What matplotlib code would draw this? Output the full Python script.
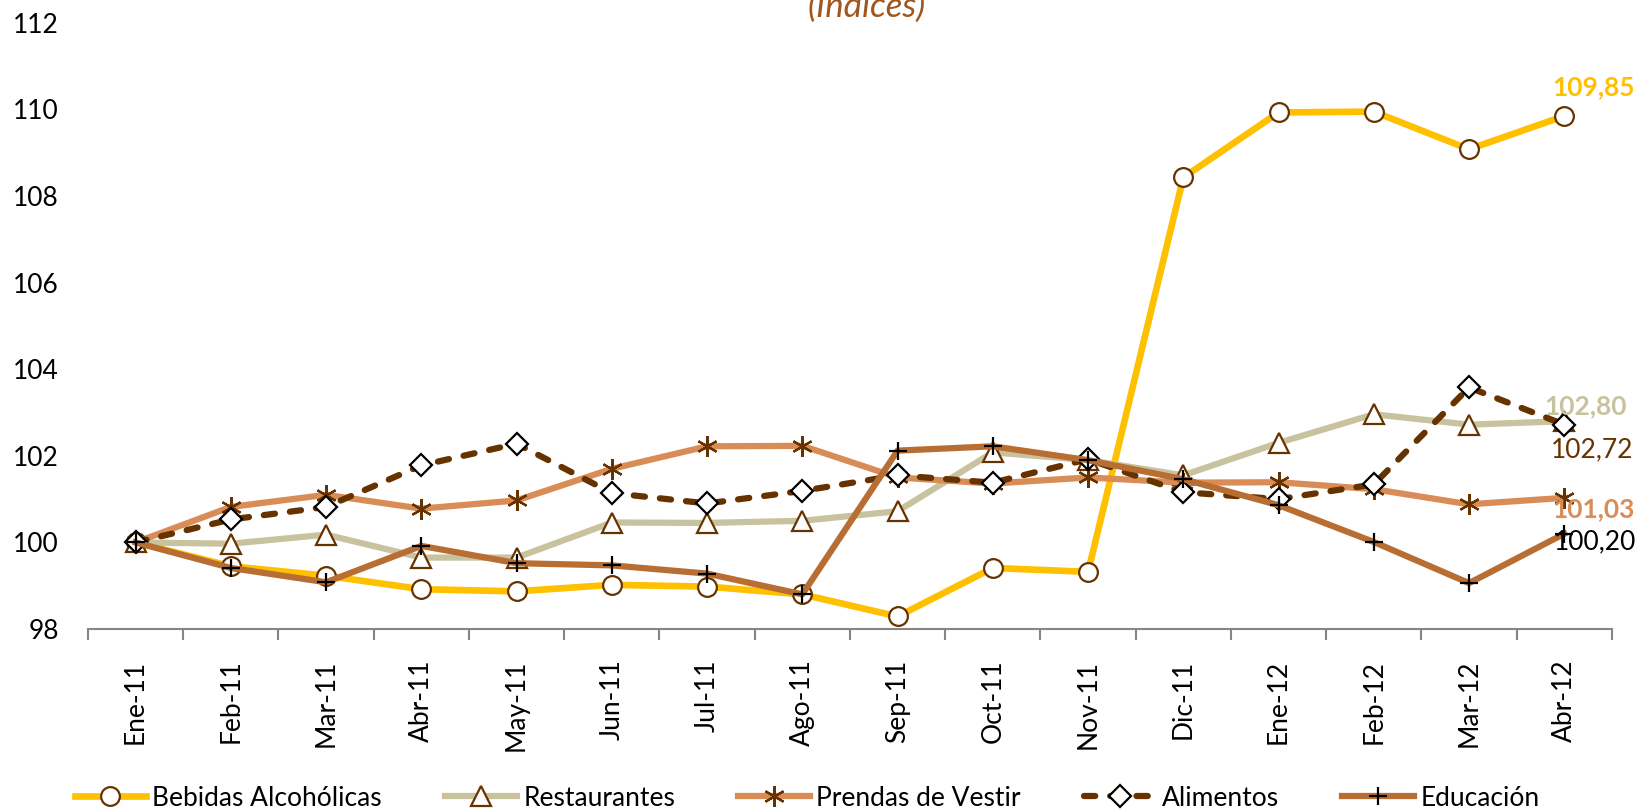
import numpy as np
import matplotlib
matplotlib.use('Agg')
import matplotlib.pyplot as plt

plt.rcParams['font.family'] = ['Lato', 'DejaVu Sans']

# Months (x axis)
meses = ['Ene-11', 'Feb-11', 'Mar-11', 'Abr-11', 'May-11', 'Jun-11', 'Jul-11', 'Ago-11',
         'Sep-11', 'Oct-11', 'Nov-11', 'Dic-11', 'Ene-12', 'Feb-12', 'Mar-12', 'Abr-12']

# Index values
bebidas = [100.00, 99.45, 99.23, 98.92, 98.87, 99.02, 98.98, 98.80,
           98.29, 99.41, 99.32, 108.43, 109.93, 109.95, 109.08, 109.85]
restaurantes = [100.00, 99.97, 100.18, 99.65, 99.65, 100.46, 100.45, 100.50,
                100.72, 102.08, 101.90, 101.55, 102.30, 102.96, 102.72, 102.80]
prendas = [100.00, 100.82, 101.10, 100.78, 100.97, 101.70, 102.22, 102.23,
           101.50, 101.36, 101.50, 101.38, 101.39, 101.23, 100.88, 101.03]
alimentos = [100.00, 100.53, 100.82, 101.78, 102.28, 101.14, 100.90, 101.19,
             101.55, 101.38, 101.92, 101.16, 101.00, 101.34, 103.58, 102.72]
educacion = [100.00, 99.41, 99.08, 99.92, 99.52, 99.47, 99.28, 98.80,
             102.12, 102.22, 101.90, 101.46, 100.86, 100.01, 99.06, 100.20]

fig = plt.figure(figsize=(16.41, 8.11), dpi=100)
ax = fig.add_axes([0.0536, 0.2244, 0.9287, 0.7474])
x = np.arange(len(meses))

brown = '#663300'
ax.plot(x, bebidas, color='#FFC000', lw=4.8, marker='o', ms=13.5, mfc='white',
        mec=brown, mew=1.6, label='Bebidas Alcohólicas', zorder=3)
ax.plot(x, restaurantes, color='#C9C29F', lw=4.5, marker='^', ms=14, mfc='white',
        mec=brown, mew=1.6, label='Restaurantes', zorder=4)
ax.plot(x, prendas, color='#D98C55', lw=4.5, marker=(6, 2, 0), ms=15, mfc='none',
        mec=brown, mew=1.6, label='Prendas de Vestir', zorder=5)
ax.plot(x, alimentos, color=brown, lw=4.5, dashes=(1.8, 2.4), dash_capstyle='round',
        marker='D', ms=11, mfc='white', mec='black', mew=1.6, label='Alimentos', zorder=6)
ax.plot(x, educacion, color='#B86E33', lw=4.5, marker='+', ms=13, mec='black',
        mew=1.6, label='Educación', zorder=7)

# End labels
ends = [(bebidas, '#FFC000', 'bold', (21, 21)),
        (restaurantes, '#C9C29F', 'bold', (15, 11)),
        (alimentos, brown, 'normal', (20, -18)),
        (prendas, '#D98C55', 'bold', (21, -8)),
        (educacion, 'black', 'normal', (22, -6))]
for serie, col, wt, off in ends:
    ax.annotate(f'{serie[-1]:.2f}'.replace('.', ','), (x[-1], serie[-1]),
                xytext=off, textcoords='offset points', ha='center', va='center',
                fontsize=19, color=col, fontweight=wt, annotation_clip=False, zorder=10)

ax.set_xlim(-0.5, 15.5)
ax.set_ylim(98, 112)
ax.set_yticks(np.arange(98, 113, 2))
ax.tick_params(axis='y', length=0, labelsize=19, pad=21)

ax.set_xticks(np.arange(-0.5, 16, 1))
ax.set_xticklabels([])
ax.tick_params(axis='x', which='major', length=8, width=1.5, color='#868686')
ax.set_xticks(x, minor=True)
ax.set_xticklabels(meses, minor=True, rotation=90)
ax.tick_params(axis='x', which='minor', length=0, labelsize=19, pad=22)

for s in ['top', 'right', 'left']:
    ax.spines[s].set_visible(False)
ax.spines['bottom'].set_color('#868686')
ax.spines['bottom'].set_linewidth(1.5)

fig.text(0.528, 0.979, '(Índices)', ha='center', va='baseline', fontsize=25,
         style='italic', color='#A0561C')

fig.legend(loc='center left', bbox_to_anchor=(0.039, 0.016), ncol=5, frameon=False,
           fontsize=19, handlelength=2.7, columnspacing=2.4, handletextpad=0.25,
           borderaxespad=0)

fig.savefig('out.png', dpi=100)
